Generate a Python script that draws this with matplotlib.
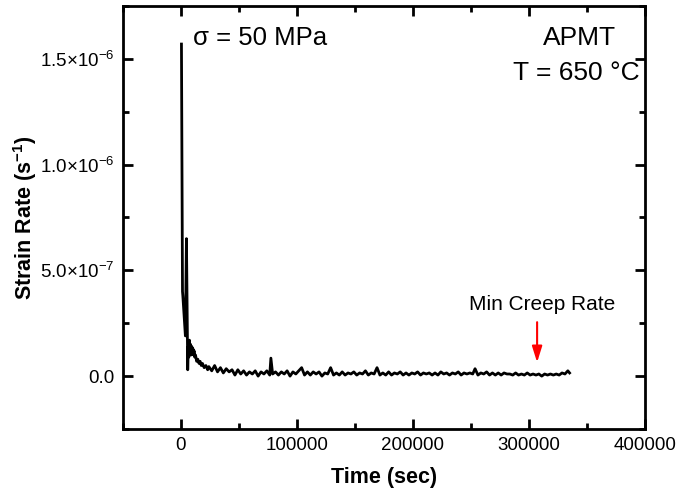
import matplotlib
matplotlib.use("Agg")
import matplotlib.pyplot as plt
from matplotlib.ticker import MultipleLocator, FuncFormatter
import numpy as np

plt.rcParams['font.family'] = ['Liberation Sans', 'DejaVu Sans']
plt.rcParams['mathtext.fontset'] = 'custom'
plt.rcParams['mathtext.rm'] = 'Liberation Sans'
plt.rcParams['mathtext.it'] = 'Liberation Sans:italic'
plt.rcParams['mathtext.bf'] = 'Liberation Sans:bold'

# ---- data (time in s, strain rate in units of 1e-8 1/s) ----
time_early = [400, 1300, 1600, 2500, 3800, 4700, 5800, 6300, 6800, 7300, 7800,
              8300, 8800, 9300, 9800, 10300, 10800, 11300, 11800, 12500, 13500,
              14500, 15500, 16500, 17500, 18500, 20000, 21500, 23000]
rate_early = [157, 40, 38, 30, 19, 65, 3, 14, 9, 17, 11,
              15, 10, 14, 12, 13, 10, 12, 9, 10, 7,
              8, 6, 7, 5, 6, 4, 5, 3]

time_tail = [24000, 26500, 29000, 31500, 34000, 36500, 39000, 41500, 44000, 46500,
             49000, 51500, 54000, 56500, 59000, 61500, 64000, 66500, 69000, 71500,
             74000, 76500, 77500, 79000, 81500, 84000, 86500, 89000, 91500, 94000,
             96500, 99000, 101500, 104000, 106500, 109000, 111500, 114000, 116500, 119000,
             121500, 124000, 126500, 129000, 131500, 134000, 136500, 139000, 141500, 144000,
             146500, 149000, 151500, 154000, 156500, 159000, 161500, 164000, 166500, 169000,
             171500, 174000, 176500, 179000, 181500, 184000, 186500, 189000, 191500, 194000,
             196500, 199000, 201500, 204000, 206500, 209000, 211500, 214000, 216500, 219000,
             221500, 224000, 226500, 229000, 231500, 234000, 236500, 239000, 241500, 244000,
             246500, 249000, 251500, 253500, 256000, 258500, 261000, 263500, 266000, 268500,
             271000, 273500, 276000, 278500, 281000, 283500, 286000, 288500, 291000, 293500,
             296000, 298500, 301000, 303500, 306000, 308500, 311000, 313500, 316000, 318500,
             321000, 323500, 326000, 328500, 331000, 333500, 335000]
rate_tail = [4.5, 2.5, 5.0, 2.0, 4.0, 1.5, 3.5, 2.0, 3.0, 0.5,
             3.0, 1.0, 2.5, 0.5, 2.0, 1.0, 2.5, 0.0, 2.0, 1.0,
             2.5, 0.5, 8.5, 1.0, 2.0, 0.5, 2.0, 1.0, 2.5, 0.0,
             2.0, 1.0, 2.5, 4.0, 0.5, 2.0, 0.5, 2.0, 1.0, 2.0,
             0.0, 1.5, 1.0, 4.0, 0.5, 1.5, 0.5, 2.0, 0.5, 1.5,
             1.0, 2.0, 0.5, 1.5, 1.0, 2.5, 0.5, 1.5, 1.0, 4.0,
             0.5, 1.5, 0.5, 2.0, 0.5, 1.5, 1.0, 2.0, 0.5, 1.5,
             0.5, 1.5, 1.0, 2.0, 0.5, 1.5, 1.0, 1.5, 0.5, 1.5,
             0.5, 2.0, 1.0, 1.5, 0.5, 1.5, 1.0, 2.0, 0.5, 1.5,
             1.0, 1.5, 1.0, 3.5, 0.5, 1.5, 1.0, 2.0, 0.5, 1.5,
             0.5, 1.5, 0.5, 1.5, 1.0, 1.0, 0.5, 1.5, 0.5, 1.0,
             0.5, 1.5, 0.5, 1.0, 0.5, 1.0, 0.0, 1.0, 0.5, 1.0,
             0.5, 1.0, 0.5, 1.5, 1.0, 2.5, 1.5]

rate_unit = 1e-8
min_creep_time = 307000

time = np.array(time_early + time_tail, dtype=float)
rate = np.array(rate_early + rate_tail, dtype=float) * rate_unit

fig = plt.figure(figsize=(6.78, 4.99), dpi=100)
ax = fig.add_axes([0.1814, 0.1403, 0.7699, 0.8477])

ax.plot(time, rate, color='black', lw=2.0)

ax.set_xlim(-50000, 400000)
ax.set_ylim(-2.5e-7, 1.75e-6)
ax.xaxis.set_major_locator(MultipleLocator(100000))
ax.xaxis.set_minor_locator(MultipleLocator(50000))
ax.yaxis.set_major_locator(MultipleLocator(5e-7))
ax.yaxis.set_minor_locator(MultipleLocator(2.5e-7))


def yfmt(v, pos):
    if abs(v) < 1e-12:
        return "0.0"
    exp = int(np.floor(np.log10(abs(v))))
    mant = v / 10 ** exp
    return "%.1f×10$^{%d}$" % (mant, exp)


ax.yaxis.set_major_formatter(FuncFormatter(yfmt))
ax.xaxis.set_major_formatter(FuncFormatter(lambda v, p: "%d" % v))

for s in ax.spines.values():
    s.set_linewidth(2.0)
ax.tick_params(which='both', direction='in', top=True, right=True, width=2.0,
               labelsize=13.5)
ax.tick_params(which='major', length=7, pad=6)
ax.tick_params(which='minor', length=4)

ax.set_xlabel("Time (sec)", fontsize=15.5, fontweight='bold', labelpad=9)
ax.set_ylabel(r"Strain Rate (s$^{\mathbf{-1}}$)", fontsize=15.5, fontweight='bold', labelpad=1)

ax.text(0.134, 0.924, "σ = 50 MPa", transform=ax.transAxes, fontsize=18.5,
        ha='left', va='center')
ax.text(0.875, 0.924, "APMT", transform=ax.transAxes, fontsize=19,
        ha='center', va='center')
ax.text(0.869, 0.842, "T = 650 °C", transform=ax.transAxes, fontsize=19,
        ha='center', va='center')

ax.annotate("", xy=(min_creep_time, 6.5e-8), xytext=(min_creep_time, 2.55e-7),
            arrowprops=dict(arrowstyle='-|>,head_width=0.25,head_length=0.8',
                            color='red', lw=1.5,
                            mutation_scale=12, shrinkA=0, shrinkB=0))
ax.text(311000, 3.37e-7, "Min Creep Rate", fontsize=15, ha='center', va='center')

fig.savefig("out.png", dpi=100)
